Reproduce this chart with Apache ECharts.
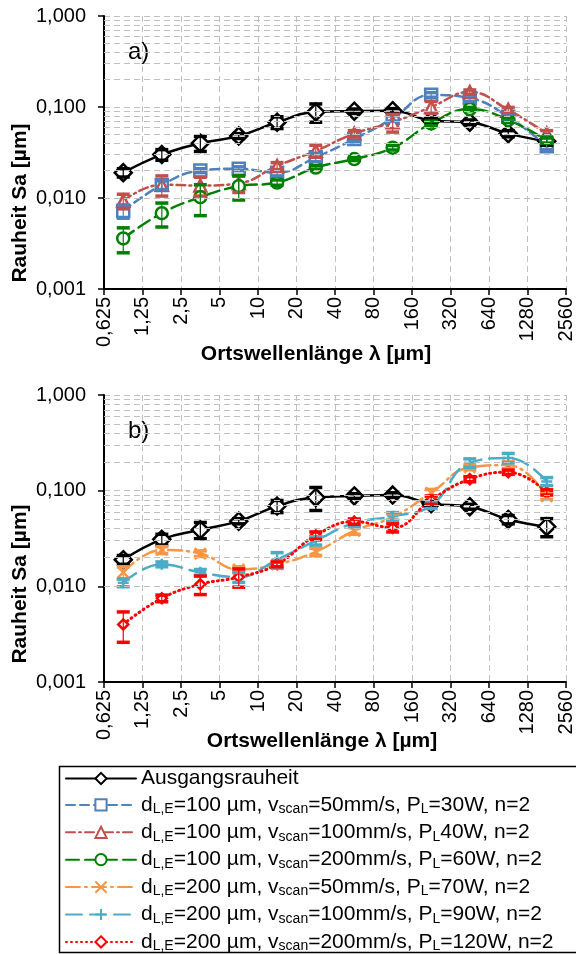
<!DOCTYPE html>
<html><head><meta charset="utf-8">
<script src="https://cdn.jsdelivr.net/npm/echarts@6/dist/echarts.min.js"></script>
<style>html,body{margin:0;padding:0;background:#fff}#c{width:576px;height:954px}</style>
</head><body><div id="c"></div>
<script>
const lambda0 = 0.625;
const lambdaUm = [0.884, 1.77, 3.54, 7.07, 14.1, 28.3, 56.6, 113, 226, 453, 905, 1810];
const xTickLabels = ['0,625','1,25','2,5','5','10','20','40','80','160','320','640','1280','2560'];

const seriesNames = [
  'Ausgangsrauheit',
  'dLE=100 µm, vscan=50mm/s, PL=30W, n=2',
  'dLE=100 µm, vscan=100mm/s, PL40W, n=2',
  'dLE=100 µm, vscan=200mm/s, PL=60W, n=2',
  'dLE=200 µm, vscan=50mm/s, PL=70W, n=2',
  'dLE=200 µm, vscan=100mm/s, PL=90W, n=2',
  'dLE=200 µm, vscan=200mm/s, PL=120W, n=2'
];
const legendRich = [
  '{n|Ausgangsrauheit}',
  '{n|d}{s|L,E}{n|=100 µm, v}{s|scan}{n|=50mm/s, P}{s|L}{n|=30W, n=2}',
  '{n|d}{s|L,E}{n|=100 µm, v}{s|scan}{n|=100mm/s, P}{s|L}{n|40W, n=2}',
  '{n|d}{s|L,E}{n|=100 µm, v}{s|scan}{n|=200mm/s, P}{s|L}{n|=60W, n=2}',
  '{n|d}{s|L,E}{n|=200 µm, v}{s|scan}{n|=50mm/s, P}{s|L}{n|=70W, n=2}',
  '{n|d}{s|L,E}{n|=200 µm, v}{s|scan}{n|=100mm/s, P}{s|L}{n|=90W, n=2}',
  '{n|d}{s|L,E}{n|=200 µm, v}{s|scan}{n|=200mm/s, P}{s|L}{n|=120W, n=2}'
];

// chart a)
const baseA    = [0.019, 0.030, 0.040, 0.048, 0.068, 0.088, 0.090, 0.091, 0.071, 0.068, 0.051, 0.042];
const baseAErr = [0.002, 0.004, 0.0075, 0.003, 0.010, 0.020, 0.005, 0.005, 0.004, 0.004, 0.004, 0.004];
const blueA    = [0.0072, 0.0139, 0.0200, 0.0210, 0.0190, 0.028, 0.0445, 0.075, 0.136, 0.125, 0.078, 0.037];
const blueAErr = [0.0012, 0.0015, 0.001, 0.001, 0.0015, 0.003, 0.003, 0.005, 0.008, 0.010, 0.006, 0.003];
const redA     = [0.0093, 0.014, 0.0137, 0.0145, 0.0225, 0.033, 0.051, 0.068, 0.100, 0.146, 0.093, 0.051];
const redAErr  = [0.0017, 0.0035, 0.0032, 0.003, 0.002, 0.005, 0.004, 0.015, 0.015, 0.008, 0.006, 0.004];
const greenA   = [0.0036, 0.0068, 0.0102, 0.0135, 0.0148, 0.0216, 0.0268, 0.0357, 0.066, 0.095, 0.072, 0.043];
const greenAErr= [0.0011, 0.002, 0.0038, 0.004, 0.001, 0.001, 0.001, 0.002, 0.004, 0.004, 0.004, 0.003];

// chart b)
const baseB    = [0.019, 0.031, 0.039, 0.048, 0.069, 0.085, 0.088, 0.090, 0.073, 0.068, 0.050, 0.042];
const baseBErr = [0.002, 0.004, 0.0075, 0.003, 0.010, 0.023, 0.005, 0.005, 0.004, 0.004, 0.005, 0.009];
const orangeB  = [0.014, 0.024, 0.022, 0.015, 0.017, 0.023, 0.038, 0.053, 0.095, 0.175, 0.185, 0.087];
const orangeBErr=[0.002, 0.002, 0.0015, 0.001, 0.001, 0.002, 0.003, 0.004, 0.008, 0.010, 0.015, 0.006];
const cyanB    = [0.0109, 0.017, 0.014, 0.0125, 0.019, 0.030, 0.046, 0.054, 0.070, 0.195, 0.220, 0.125];
const cyanBErr = [0.001, 0.001, 0.001, 0.0015, 0.0035, 0.003, 0.004, 0.005, 0.005, 0.020, 0.025, 0.012];
const redB     = [0.0040, 0.0075, 0.0105, 0.0125, 0.017, 0.034, 0.0475, 0.041, 0.080, 0.132, 0.156, 0.096];
const redBErr  = [0.0014, 0.0006, 0.0023, 0.0027, 0.001, 0.003, 0.003, 0.004, 0.008, 0.008, 0.008, 0.006];

const minorY = [0.002,0.003,0.004,0.005,0.006,0.007,0.008,0.009,
                0.02,0.03,0.04,0.05,0.06,0.07,0.08,0.09,
                0.2,0.3,0.4,0.5,0.6,0.7,0.8,0.9];

const FONT = 'Liberation Sans, Arial, sans-serif';
const GRIDC = '#c0c0c0';

function xs(){ return lambdaUm.map(l => l / lambda0); }

function lineSeries(gi, name, vals, color, dash, symbol, symSize, fill, lw){
  const x = xs();
  return {
    type: 'line', name: name, xAxisIndex: gi, yAxisIndex: gi, z: 3,
    data: vals.map((v, i) => [x[i], v]),
    smooth: 0.45, symbol: symbol, symbolSize: symSize, showSymbol: true,
    lineStyle: { color: color, width: lw || 2.5, type: dash, cap: 'round' },
    itemStyle: { color: fill, borderColor: color, borderWidth: 2.5 },
    emphasis: { disabled: true }, animation: false
  };
}

function errSeries(gi, vals, errs, color){
  const x = xs();
  return {
    type: 'custom', xAxisIndex: gi, yAxisIndex: gi, z: 4, silent: true, animation: false,
    data: vals.map((v, i) => [x[i], v, errs[i]]),
    encode: { x: 0, y: 1 },
    renderItem: function(params, api){
      const xv = api.value(0), yv = api.value(1), e = api.value(2);
      const hi = api.coord([xv, yv + e]);
      const lo = api.coord([xv, Math.max(yv - e, yv * 0.3)]);
      const w = 6.5;
      return { type: 'group', children: [
        { type: 'line', shape: { x1: hi[0], y1: hi[1], x2: lo[0], y2: lo[1] }, style: { stroke: color, lineWidth: 1.2 } },
        { type: 'line', shape: { x1: hi[0]-w, y1: hi[1], x2: hi[0]+w, y2: hi[1] }, style: { stroke: color, lineWidth: 3.5 } },
        { type: 'line', shape: { x1: lo[0]-w, y1: lo[1], x2: lo[0]+w, y2: lo[1] }, style: { stroke: color, lineWidth: 3.5 } }
      ]};
    }
  };
}

function minorGrid(gi){
  return {
    type: 'line', xAxisIndex: gi, yAxisIndex: gi, data: [], silent: true, z: 1,
    markLine: {
      silent: true, symbol: ['none','none'], label: { show: false }, animation: false,
      lineStyle: { color: GRIDC, type: [6,4], width: 1 },
      data: minorY.map(v => ({ yAxis: v }))
    }
  };
}

function xAxisDef(gi){
  return {
    type: 'log', logBase: 2, gridIndex: gi, min: 1, max: 4096, splitNumber: 12, interval: 1,
    axisLine: { lineStyle: { color: '#000', width: 2 } },
    axisTick: { show: true, length: 6, inside: false, lineStyle: { color: '#000', width: 1.5 } },
    minorTick: { show: false },
    axisLabel: { rotate: 90, margin: 8, fontSize: 20, color: '#000', fontFamily: FONT,
      formatter: v => xTickLabels[Math.round(Math.log2(v))] },
    splitLine: { show: true, lineStyle: { color: GRIDC, type: [6,4], width: 1 } }
  };
}
function yAxisDef(gi){
  return {
    type: 'log', logBase: 10, gridIndex: gi, min: 0.001, max: 1, splitNumber: 3,
    axisLine: { lineStyle: { color: '#000', width: 2 } },
    axisTick: { show: true, length: 6, lineStyle: { color: '#000', width: 1.5 } },
    axisLabel: { margin: 18, fontSize: 20, color: '#000', fontFamily: FONT,
      formatter: v => Number(v).toFixed(3).replace('.', ',') },
    splitLine: { show: true, lineStyle: { color: GRIDC, type: [6,4], width: 1 } }
  };
}

const xSym = 'path://M0,0L10,10M10,0L0,10';
const pSym = 'path://M5,0L5,10M0,5L10,5';

const option = {
  animation: false,
  backgroundColor: '#fff',
  grid: [
    { left: 104, top: 16, width: 462, height: 273 },
    { left: 104, top: 395, width: 462, height: 287 }
  ],
  xAxis: [xAxisDef(0), xAxisDef(1)],
  yAxis: [yAxisDef(0), yAxisDef(1)],
  legend: {
    left: 65, top: 768, orient: 'vertical', itemWidth: 70, itemHeight: 14, itemGap: 4.4,
    padding: 0, height: 200, width: 520,
    data: seriesNames,
    formatter: name => legendRich[seriesNames.indexOf(name)],
    textStyle: {
      fontFamily: FONT, color: '#000',
      rich: {
        n: { fontSize: 21, lineHeight: 23, fontFamily: FONT, color: '#000' },
        s: { fontSize: 14, lineHeight: 23, fontFamily: FONT, color: '#000', verticalAlign: 'bottom', padding: [9,0,0,0] }
      }
    },
    selectedMode: false
  },
  graphic: [
    { type: 'rect', left: 57, top: 764, shape: { width: 560, height: 186 }, style: { fill: 'none', stroke: '#000', lineWidth: 1.5 }, z: -1 },
    { type: 'text', style: { x: 128, y: 52, text: 'a)', font: '24px Liberation Sans', fill: '#000', verticalAlign: 'middle' } },
    { type: 'text', style: { x: 128, y: 431, text: 'b)', font: '24px Liberation Sans', fill: '#000', verticalAlign: 'middle' } },
    { type: 'text', x: 20, y: 203, rotation: Math.PI/2, style: { text: 'Rauheit Sa [µm]', font: 'bold 21px Liberation Sans', fill: '#000', align: 'center', verticalAlign: 'middle' } },
    { type: 'text', x: 20, y: 584, rotation: Math.PI/2, style: { text: 'Rauheit Sa [µm]', font: 'bold 21px Liberation Sans', fill: '#000', align: 'center', verticalAlign: 'middle' } },
    { type: 'text', style: { x: 316, y: 354, text: 'Ortswellenlänge λ [µm]', font: 'bold 21px Liberation Sans', fill: '#000', align: 'center', verticalAlign: 'middle' } },
    { type: 'text', style: { x: 322, y: 741, text: 'Ortswellenlänge λ [µm]', font: 'bold 21px Liberation Sans', fill: '#000', align: 'center', verticalAlign: 'middle' } }
  ],
  series: [
    minorGrid(0), minorGrid(1),
    lineSeries(0, seriesNames[0], baseA, '#000000', 'solid', 'diamond', 17, '#fff'),
    lineSeries(0, seriesNames[1], blueA, '#4F81BD', [9,5], 'rect', 12, '#fff'),
    lineSeries(0, seriesNames[2], redA, '#C0504D', [9,4,2,4], 'triangle', 12, '#fff'),
    lineSeries(0, seriesNames[3], greenA, '#008000', [13,6], 'circle', 12, '#fff'),
    errSeries(0, baseA, baseAErr, '#000000'),
    errSeries(0, blueA, blueAErr, '#4F81BD'),
    errSeries(0, redA, redAErr, '#C0504D'),
    errSeries(0, greenA, greenAErr, '#008000'),
    lineSeries(1, seriesNames[0], baseB, '#000000', 'solid', 'diamond', 17, '#fff'),
    lineSeries(1, seriesNames[4], orangeB, '#F79646', [14,5,2,5], xSym, 11, 'none'),
    lineSeries(1, seriesNames[5], cyanB, '#4BACC6', [16,8], pSym, 11, 'none'),
    lineSeries(1, seriesNames[6], redB, '#FF0000', [1,4], 'diamond', 10, '#fff', 3),
    errSeries(1, baseB, baseBErr, '#000000'),
    errSeries(1, orangeB, orangeBErr, '#F79646'),
    errSeries(1, cyanB, cyanBErr, '#4BACC6'),
    errSeries(1, redB, redBErr, '#FF0000')
  ]
};
const chart = echarts.init(document.getElementById('c'), null, { renderer: 'canvas' });
chart.setOption(option);
</script>
</body></html>
